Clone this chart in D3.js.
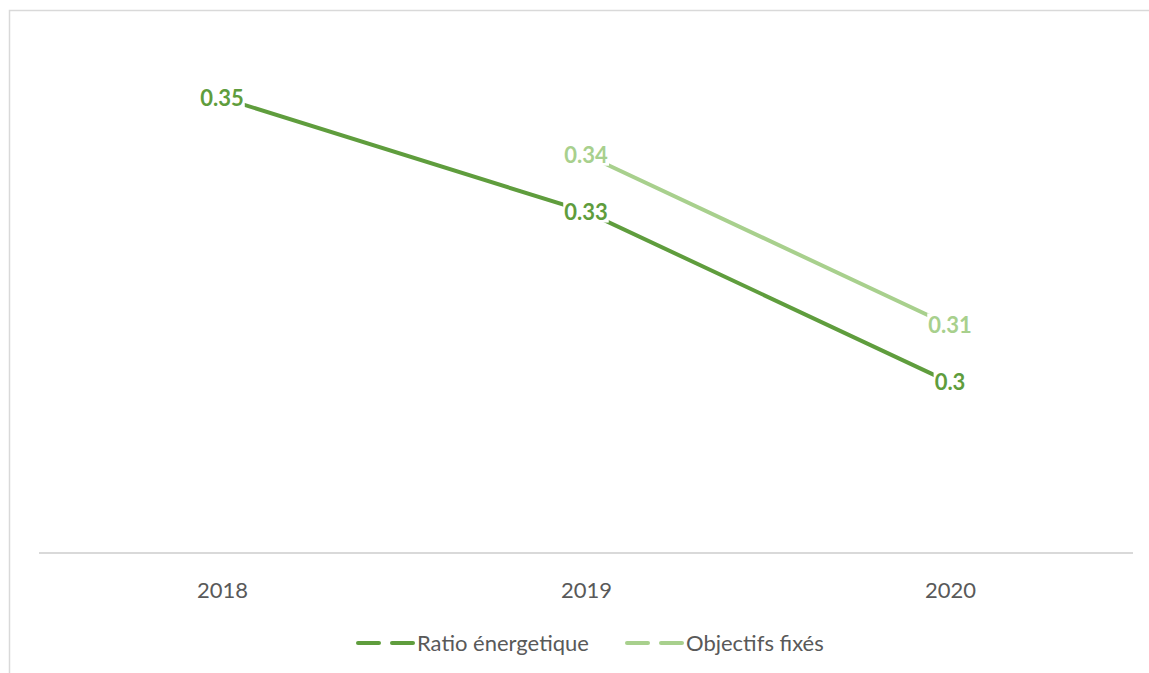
<!DOCTYPE html>
<html>
<head>
<meta charset="utf-8">
<script src="https://cdn.jsdelivr.net/npm/d3@7"></script>
<style>
  html, body { margin: 0; padding: 0; background: #fff; }
  svg { display: block; }
</style>
</head>
<body>
<svg id="chart" width="1149" height="673"></svg>
<script>
// Years on the category axis
const years = ["2018", "2019", "2020"];
// Energy ratio per year
const ratioValues = [0.35, 0.33, 0.30];
// Targets set (no target for 2018)
const targetValues = [null, 0.34, 0.31];
// Series names shown in the legend
const seriesNames = ["Ratio énergetique", "Objectifs fixés"];

const colors = ["#5f9d3d", "#a8d08d"];
const W = 1149, H = 673;
const svg = d3.select("#chart");
const font = "Lato, 'Open Sans', sans-serif";

// Chart frame
svg.append("rect")
  .attr("x", 9.5).attr("y", 10.5)
  .attr("width", W + 20).attr("height", H + 20)
  .attr("fill", "#fff").attr("stroke", "#d9d9d9").attr("stroke-width", 1.5);

const x = d3.scalePoint().domain(years).range([222, 950]);
const y = d3.scaleLinear().domain([0.27, 0.36]).range([553, 41]);

// Category axis
const xAxis = svg.append("g").attr("transform", "translate(0,553)")
  .call(d3.axisBottom(x).tickSize(0).tickPadding(29));
xAxis.select(".domain").remove();
xAxis.append("line")
  .attr("x1", 39).attr("x2", 1133)
  .attr("stroke", "#d9d9d9").attr("stroke-width", 2);
xAxis.selectAll("text")
  .attr("font-family", font).attr("font-size", 22)
  .attr("fill", "#595959");

const series = [ratioValues, targetValues];
const line = d3.line()
  .defined(d => d.v !== null)
  .x(d => x(d.year)).y(d => y(d.v));

series.forEach((vals, i) => {
  const pts = years.map((yr, j) => ({ year: yr, v: vals[j] }));
  svg.append("path")
    .datum(pts)
    .attr("d", line)
    .attr("fill", "none")
    .attr("stroke", colors[i])
    .attr("stroke-width", 4)
    .attr("stroke-linecap", "round");

  // Value labels sit on the points with a white backing
  const lbl = svg.append("g").selectAll("g")
    .data(pts.filter(d => d.v !== null))
    .join("g")
    .attr("transform", d => `translate(${x(d.year)},${y(d.v)})`);
  lbl.append("text")
    .text(d => String(d.v))
    .attr("text-anchor", "middle")
    .attr("dy", "0.36em")
    .attr("font-family", font).attr("font-weight", 700)
    .attr("font-size", 22)
    .attr("fill", colors[i])
    .each(function () {
      const b = this.getBBox();
      d3.select(this.parentNode).insert("rect", "text")
        .attr("x", b.x - 1).attr("y", b.y + 2)
        .attr("width", b.width + 2).attr("height", b.height - 4)
        .attr("fill", "#fff");
    });
});

// Legend
const legendX = [358, 627];
seriesNames.forEach((name, i) => {
  const g = svg.append("g").attr("transform", `translate(${legendX[i]},643)`);
  [[0, 21], [34, 55]].forEach(([a, b]) => {
    g.append("line")
      .attr("x1", a).attr("x2", b)
      .attr("stroke", colors[i]).attr("stroke-width", 4)
      .attr("stroke-linecap", "round");
  });
  g.append("text")
    .attr("x", 59).attr("dy", "0.35em")
    .attr("font-family", font).attr("font-size", 22)
    .attr("fill", "#595959")
    .text(name);
});
</script>
</body>
</html>
